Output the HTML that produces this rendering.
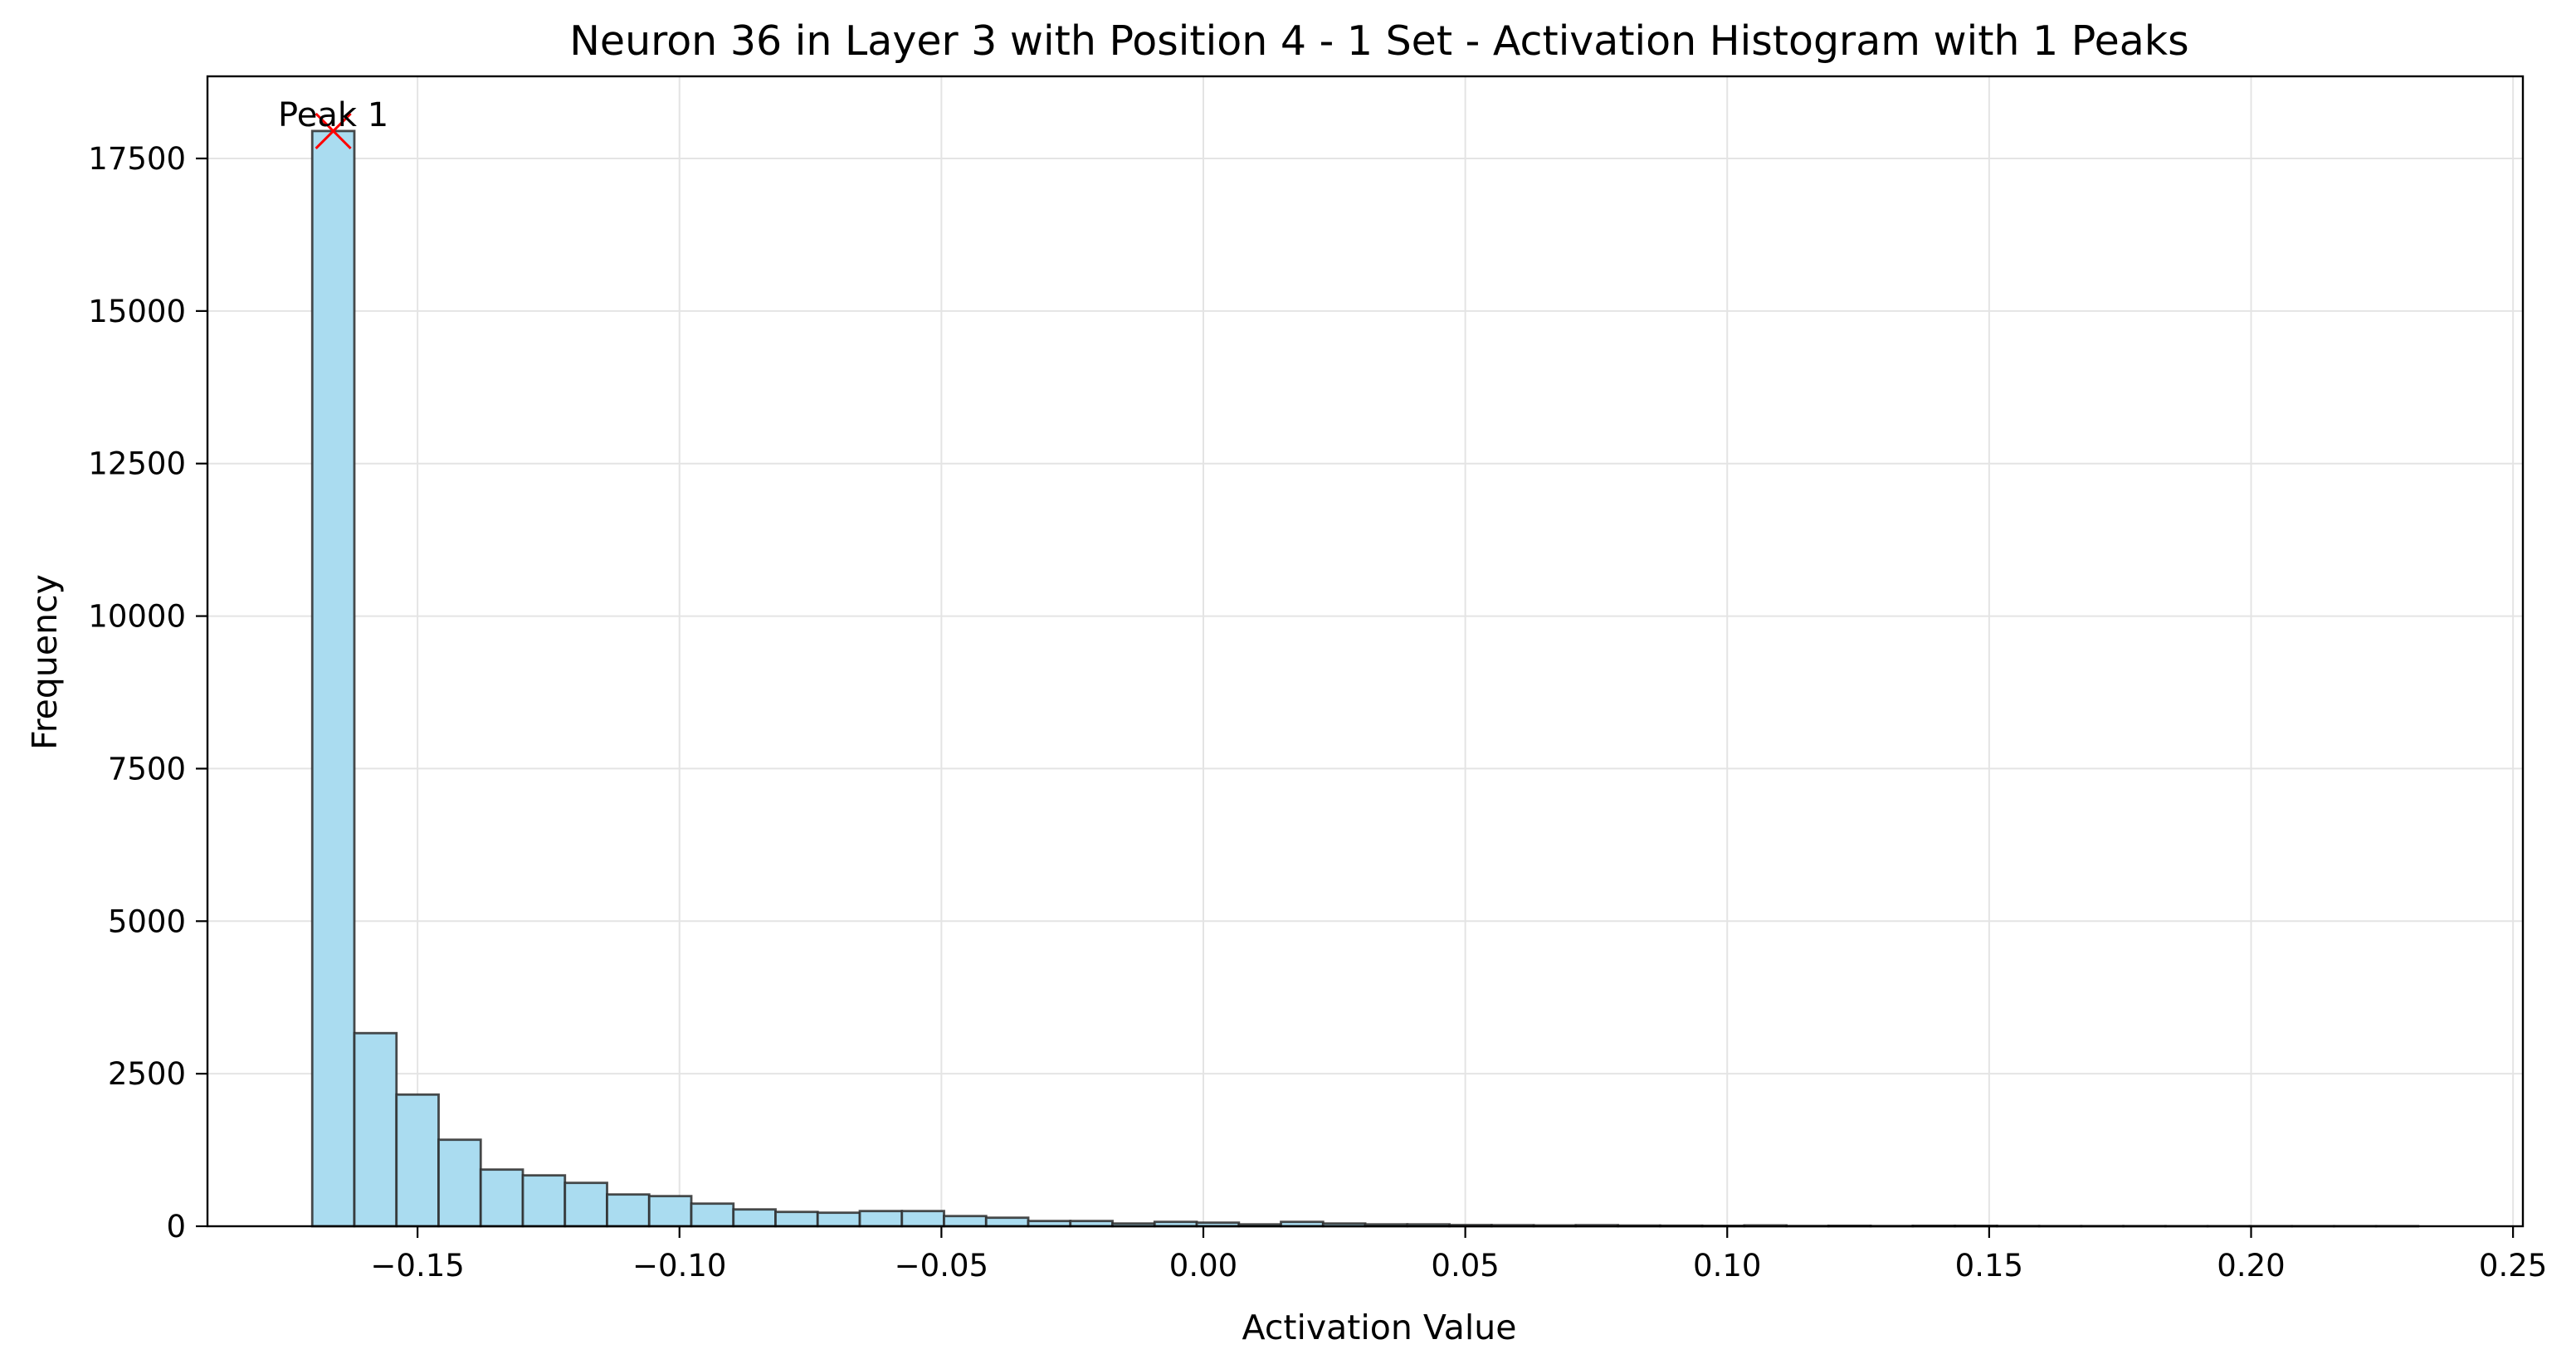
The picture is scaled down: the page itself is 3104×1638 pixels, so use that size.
<!DOCTYPE html>
<html><head><meta charset="utf-8"><style>
html,body{margin:0;padding:0;background:#fff;}
svg{display:block;font-family:"DejaVu Sans","Liberation Sans",sans-serif;}
</style></head><body>
<svg id="chart" width="3104" height="1638" viewBox="0 0 3104 1638">
<rect x="0" y="0" width="3104" height="1638" fill="#fff"/>
<g id="grid"></g>
<g id="bars"></g>
<g id="axes"></g>
<text x="1662" y="66" font-size="49" text-anchor="middle">Neuron 36 in Layer 3 with Position 4 - 1 Set - Activation Histogram with 1 Peaks</text>
<text x="1662" y="1614" font-size="41" text-anchor="middle">Activation Value</text>
<text x="68" y="798" font-size="41" text-anchor="middle" transform="rotate(-90 68 798)">Frequency</text>
</svg>
<script>
const counts = [17950,3165,2158,1418,929,834,711,521,494,371,276,235,222,249,249,167,140,86,86,45,72,59,31,72,45,31,31,20,18,14,18,12,10,8,14,5,8,4,8,8,4,3,3,3,2,2,2,2,2,2];
const binStart = -0.1701;
const binEnd = 0.2319;
const xTicks = [-0.15,-0.10,-0.05,0.00,0.05,0.10,0.15,0.20,0.25];
const xTickLabels = ["\u22120.15","\u22120.10","\u22120.05","0.00","0.05","0.10","0.15","0.20","0.25"];
const yTicks = [0,2500,5000,7500,10000,12500,15000,17500];
const peakIndex = [0];

const L=250,R=3040,T=92,B=1478;
const xS=v=>1450+v*6312.5;
const yS=v=>B-v*(1287/17500);
const NS="http://www.w3.org/2000/svg";
function mk(tag,attrs,parent){const e=document.createElementNS(NS,tag);for(const k in attrs)e.setAttribute(k,attrs[k]);parent.appendChild(e);return e;}
const grid=document.getElementById('grid'),bars=document.getElementById('bars'),axes=document.getElementById('axes'),svg=document.getElementById('chart');
xTicks.forEach((v,i)=>{
  const g=mk('line',{x1:xS(v),x2:xS(v),y1:T,y2:B,stroke:'#e4e4e4','stroke-width':2},grid);
  
  
  const t=mk('line',{x1:xS(v),x2:xS(v),y1:B,y2:B+14,stroke:'#000','stroke-width':2.2},axes);
  
  
  const tx=mk('text',{x:xS(v),y:B+60,'font-size':37,'text-anchor':'middle'},axes);
  tx.textContent=xTickLabels[i];
  
  
});
yTicks.forEach(v=>{
  const g=mk('line',{x1:L,x2:R,y1:yS(v),y2:yS(v),stroke:'#e4e4e4','stroke-width':2},grid);
  
  
  const t=mk('line',{x1:L-14,x2:L,y1:yS(v),y2:yS(v),stroke:'#000','stroke-width':2.2},axes);
  
  
  const tx=mk('text',{x:L-26,y:yS(v)+13,'font-size':37,'text-anchor':'end'},axes);
  tx.textContent=String(v);
  
  
});
const w=(binEnd-binStart)/counts.length;
counts.forEach((c,i)=>{
  const x0=xS(binStart+i*w),x1=xS(binStart+(i+1)*w);
  const r=mk('rect',{x:x0,y:yS(c),width:x1-x0,height:B-yS(c),fill:'#aadcf0',stroke:'#2b2b2b','stroke-opacity':0.85,'stroke-width':2.8},bars);
  
  
});
const sp=mk('rect',{x:L,y:T,width:R-L,height:B-T,fill:'none',stroke:'#000','stroke-width':2.4},axes);


peakIndex.forEach((pi,k)=>{
  const cx=xS(binStart+(pi+0.5)*w),cy=yS(counts[pi]);
  const m=mk('path',{d:`M${cx-21} ${cy-21}L${cx+21} ${cy+21}M${cx-21} ${cy+21}L${cx+21} ${cy-21}`,stroke:'#ff0000','stroke-width':3,fill:'none'},svg);
  
  
  const t=mk('text',{x:cx,y:cy-6,'font-size':40,'text-anchor':'middle'},svg);
  t.textContent='Peak '+(k+1);
  
  
});
</script>
</body></html>
